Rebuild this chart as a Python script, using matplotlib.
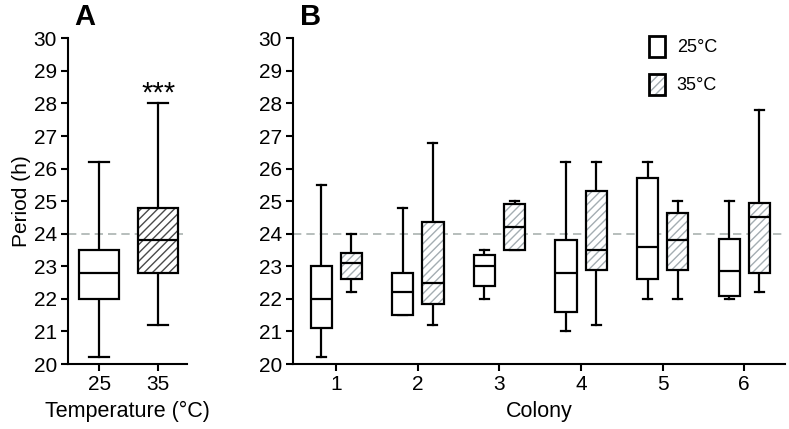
import matplotlib
matplotlib.use("Agg")
import matplotlib.pyplot as plt
from matplotlib.patches import PathPatch, Patch

plt.rcParams['font.family'] = ['Liberation Sans', 'DejaVu Sans']

# Panel A data: (low whisker, Q1, median, Q3, high whisker)
temps = ["25", "35"]
a_low = [20.2, 21.2]
a_q1 = [22.0, 22.8]
a_med = [22.8, 23.8]
a_q3 = [23.5, 24.8]
a_high = [26.2, 28.0]

# Panel B data per colony
colonies = ["1", "2", "3", "4", "5", "6"]
b25_low = [20.2, 21.5, 22.0, 21.0, 22.0, 22.0]
b25_q1 = [21.1, 21.5, 22.4, 21.6, 22.6, 22.1]
b25_med = [22.0, 22.2, 23.0, 22.8, 23.6, 22.85]
b25_q3 = [23.0, 22.8, 23.35, 23.8, 25.7, 23.85]
b25_high = [25.5, 24.8, 23.5, 26.2, 26.2, 25.0]

b35_low = [22.2, 21.2, 23.5, 21.2, 22.0, 22.2]
b35_q1 = [22.6, 21.85, 23.5, 22.9, 22.9, 22.8]
b35_med = [23.1, 22.5, 24.2, 23.5, 23.8, 24.5]
b35_q3 = [23.4, 24.35, 24.9, 25.3, 24.65, 24.95]
b35_high = [24.0, 26.8, 25.0, 26.2, 25.0, 27.8]

ref_period = 24.0
yticks = list(range(20, 31))


def stats(low, q1, med, q3, high):
    return [dict(whislo=l, q1=a, med=m, q3=b, whishi=h, fliers=[])
            for l, a, m, b, h in zip(low, q1, med, q3, high)]


fig = plt.figure(figsize=(7.89, 4.29), dpi=100)
axA = fig.add_axes([68/789, 1-364/429, (187-68)/789, (364-38.3)/429])
axB = fig.add_axes([293/789, 1-364/429, (785-293)/789, (364-38.3)/429])

LW = 1.6
line_kw = dict(color='black', linewidth=LW)
HATCH_A = '#4a4a4a'
HATCH_B = '#a4adb2'


def draw(ax, st, pos, width, capw, hatched, hatchcol):
    bp = ax.bxp(st, positions=pos, widths=width, capwidths=capw,
                patch_artist=True, showfliers=False,
                boxprops=dict(facecolor='white', edgecolor='black', linewidth=LW),
                whiskerprops=line_kw, capprops=line_kw,
                medianprops=line_kw, manage_ticks=False)
    for b in bp['boxes']:
        b.set_zorder(3)
        if hatched:
            b.set_hatch('////')
            b.set_edgecolor(hatchcol)
            b.set_linewidth(0)
            outline = PathPatch(b.get_path(), transform=b.get_transform(),
                                fill=False, edgecolor='black', linewidth=LW, zorder=3.5)
            ax.add_patch(outline)
    for m in bp['medians']:
        m.set_zorder(4)
    return bp


# Panel A
posA = [0, 1]
draw(axA, stats([a_low[0]], [a_q1[0]], [a_med[0]], [a_q3[0]], [a_high[0]]),
     [posA[0]], 0.68, 0.34, False, None)
draw(axA, stats([a_low[1]], [a_q1[1]], [a_med[1]], [a_q3[1]], [a_high[1]]),
     [posA[1]], 0.68, 0.34, True, HATCH_A)
axA.axhline(ref_period, color='#aab3b0', linestyle=(0, (5, 3)), linewidth=1.2, zorder=1)
axA.set_xlim(-0.53, 1.49)
axA.set_xticks(posA)
axA.set_xticklabels(temps)
axA.set_xlabel("Temperature (°C)", fontsize=15.5, labelpad=5)
axA.set_ylabel("Period (h)", fontsize=15, labelpad=2)
axA.text(posA[1], 27.87, "***", ha='center', va='bottom', fontsize=21)

# Panel B
xs = list(range(1, len(colonies) + 1))
off, w = 0.185, 0.26
draw(axB, stats(b25_low, b25_q1, b25_med, b25_q3, b25_high),
     [x - off for x in xs], w, 0.11, False, None)
draw(axB, stats(b35_low, b35_q1, b35_med, b35_q3, b35_high),
     [x + off for x in xs], w, 0.11, True, HATCH_B)
axB.axhline(ref_period, color='#aab3b0', linestyle=(0, (5, 3)), linewidth=1.2, zorder=1)
axB.set_xlim(0.47, 6.5)
axB.set_xticks(xs)
axB.set_xticklabels(colonies)
axB.set_xlabel("Colony", fontsize=15.5, labelpad=5)

h25 = Patch(facecolor='white', edgecolor='black', linewidth=2)
h35_fill = Patch(facecolor='white', edgecolor=HATCH_B, hatch='////', linewidth=0)
h35_edge = Patch(facecolor='none', edgecolor='black', linewidth=2)
leg = axB.legend([h25, (h35_fill, h35_edge)], ["25°C", "35°C"], loc='upper left',
                 bbox_to_anchor=(649/789, 1-36/429), bbox_transform=fig.transFigure,
                 borderaxespad=0, borderpad=0,
                 frameon=False, fontsize=13,
                 handlelength=0.88, handleheight=1.4, labelspacing=0.95, handletextpad=0.65)

for ax in (axA, axB):
    ax.set_ylim(20, 30)
    ax.set_yticks(yticks)
    ax.spines['top'].set_visible(False)
    ax.spines['right'].set_visible(False)
    ax.spines['left'].set_linewidth(1.5)
    ax.spines['bottom'].set_linewidth(1.5)
    ax.tick_params(axis='both', labelsize=15, width=1.5, length=5, direction='out', pad=3)

fig.text(85/789, 1-17/429, "A", fontsize=21, fontweight='bold', ha='center', va='center')
fig.text(311/789, 1-17/429, "B", fontsize=21, fontweight='bold', ha='center', va='center')

fig.savefig("out.png", dpi=100)
